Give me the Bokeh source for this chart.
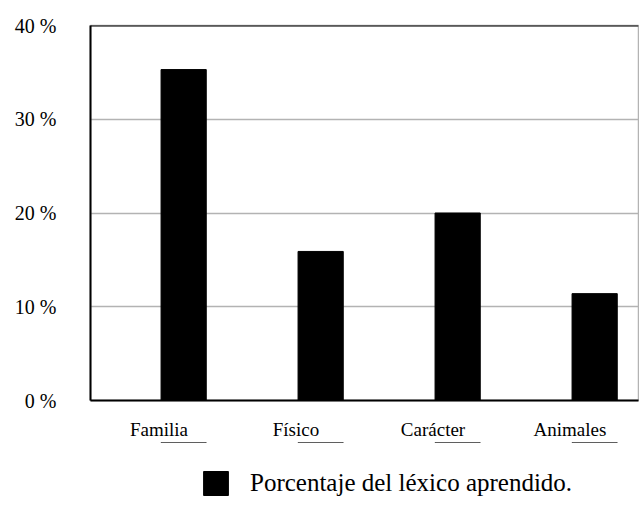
from bokeh.plotting import figure
from bokeh.layouts import column
from bokeh.models import ColumnDataSource, Range1d, FactorRange, Legend, LegendItem, Span, FixedTicker
from bokeh.transform import dodge
from bokeh.embed import file_html
from bokeh.resources import INLINE

categories = ["Familia", "Físico", "Carácter", "Animales"]
values = [35.3, 15.9, 20.0, 11.4]
y_ticks = [0, 10, 20, 30, 40]
y_tick_labels = ["0 %", "10 %", "20 %", "30 %", "40 %"]
series_name = "Porcentaje del léxico aprendido."

FONT = "Liberation Serif"

src = ColumnDataSource(dict(cat=categories, val=values))

p = figure(x_range=FactorRange(*categories), y_range=Range1d(0, 40),
           frame_width=548, frame_height=375,
           min_border_left=90, min_border_right=1, min_border_top=25,
           min_border_bottom=40,
           output_backend="svg", toolbar_location=None)

r = p.vbar(x=dodge("cat", 0.18, range=p.x_range), top="val", width=0.33,
           source=src, fill_color="black", line_color="black")

p.outline_line_color = "#b3b3b3"
p.outline_line_width = 1.5
p.xgrid.grid_line_color = None
p.ygrid.grid_line_color = "#b3b3b3"
p.ygrid.grid_line_width = 1.5

p.yaxis.ticker = FixedTicker(ticks=y_ticks)
p.yaxis.major_label_overrides = {t: l for t, l in zip(y_ticks, y_tick_labels)}
for ax in (p.xaxis[0], p.yaxis[0]):
    ax.axis_line_color = "black"
    ax.axis_line_width = 2
    ax.major_tick_line_color = None
    ax.minor_tick_line_color = None
    ax.major_label_text_font = FONT
    ax.major_label_text_color = "black"
p.yaxis.major_label_text_font_size = "20px"
p.yaxis.major_label_standoff = 28
p.xaxis.major_label_text_font_size = "19px"
p.xaxis.major_label_standoff = 12

p.add_layout(Span(location=40, dimension="width", line_color="black", line_width=2))

# Legend strip below the chart (same borders as the chart, so frames line up)
p2 = figure(x_range=p.x_range, y_range=Range1d(-2, -1),
            frame_width=548, frame_height=68,
            min_border_left=90, min_border_right=1, min_border_top=0,
            min_border_bottom=0,
            output_backend="svg", toolbar_location=None)
p2.axis.visible = False
p2.grid.visible = False
p2.outline_line_color = None
# same series drawn outside the strip's visible range: only its legend swatch shows
swatch = p2.vbar(x=dodge("cat", 0.18, range=p.x_range), top="val", width=0.33,
                 source=src, fill_color="black", line_color="black")

legend = Legend(items=[LegendItem(label=series_name, renderers=[swatch])],
                location=(110, 12), orientation="horizontal",
                label_text_font=FONT, label_text_font_size="25px",
                label_text_color="black",
                glyph_width=31, glyph_height=30, label_standoff=19,
                border_line_color=None, background_fill_alpha=0,
                padding=4, margin=0)
p2.add_layout(legend, "center")

layout = column(p, p2, spacing=0)

open("out.html", "w").write(file_html(layout, INLINE))
